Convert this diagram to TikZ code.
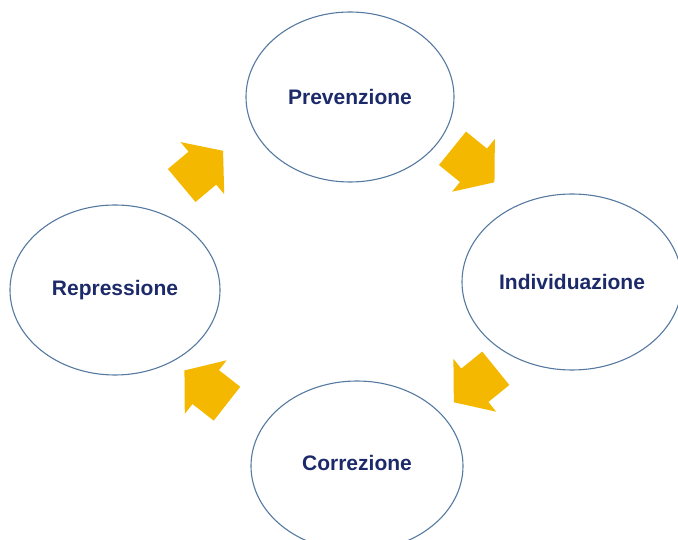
\documentclass[tikz,border=0pt]{standalone}
\usepackage{fontspec}
\setmainfont{Liberation Sans}
\usetikzlibrary{shapes.geometric}
\definecolor{ringblue}{HTML}{5579A0}
\definecolor{textnavy}{HTML}{1C2A6A}
\definecolor{arrowyellow}{HTML}{F4B800}
\tikzset{
  ring/.style={ellipse, draw=ringblue, line width=1.1pt, inner sep=0pt,
    font=\fontsize{21}{25}\selectfont\bfseries, text=textnavy},
  blockarrow/.style={fill=arrowyellow}
}
\begin{document}
\begin{tikzpicture}[x=1pt,y=1pt]
\useasboundingbox (0,0) rectangle (678,539);
\clip (0,0) rectangle (678,539);
\node[ring, minimum width=208pt, minimum height=170pt] (prev) at (350,442) {Prevenzione};
\node[ring, minimum width=220pt, minimum height=176pt] (indiv) at (572,257) {Individuazione};
\node[ring, minimum width=210pt, minimum height=170pt] (repr) at (115,249) {Repressione};
\node[ring, minimum width=212pt, minimum height=170pt] (corr) at (357,73) {\raisebox{6pt}{Correzione}};
\foreach \px/\py/\ang in {181.7/353.5/40, 452.5/390.7/-39, 495.8/170.7/-141, 227/135.3/142}{
  \fill[blockarrow, shift={(\px,\py)}, rotate=\ang]
    (0,-21.5) -- (27,-21.5) -- (27,-34) -- (54,0) -- (27,34) -- (27,21.5) -- (0,21.5) -- cycle;
}
\end{tikzpicture}
\end{document}
